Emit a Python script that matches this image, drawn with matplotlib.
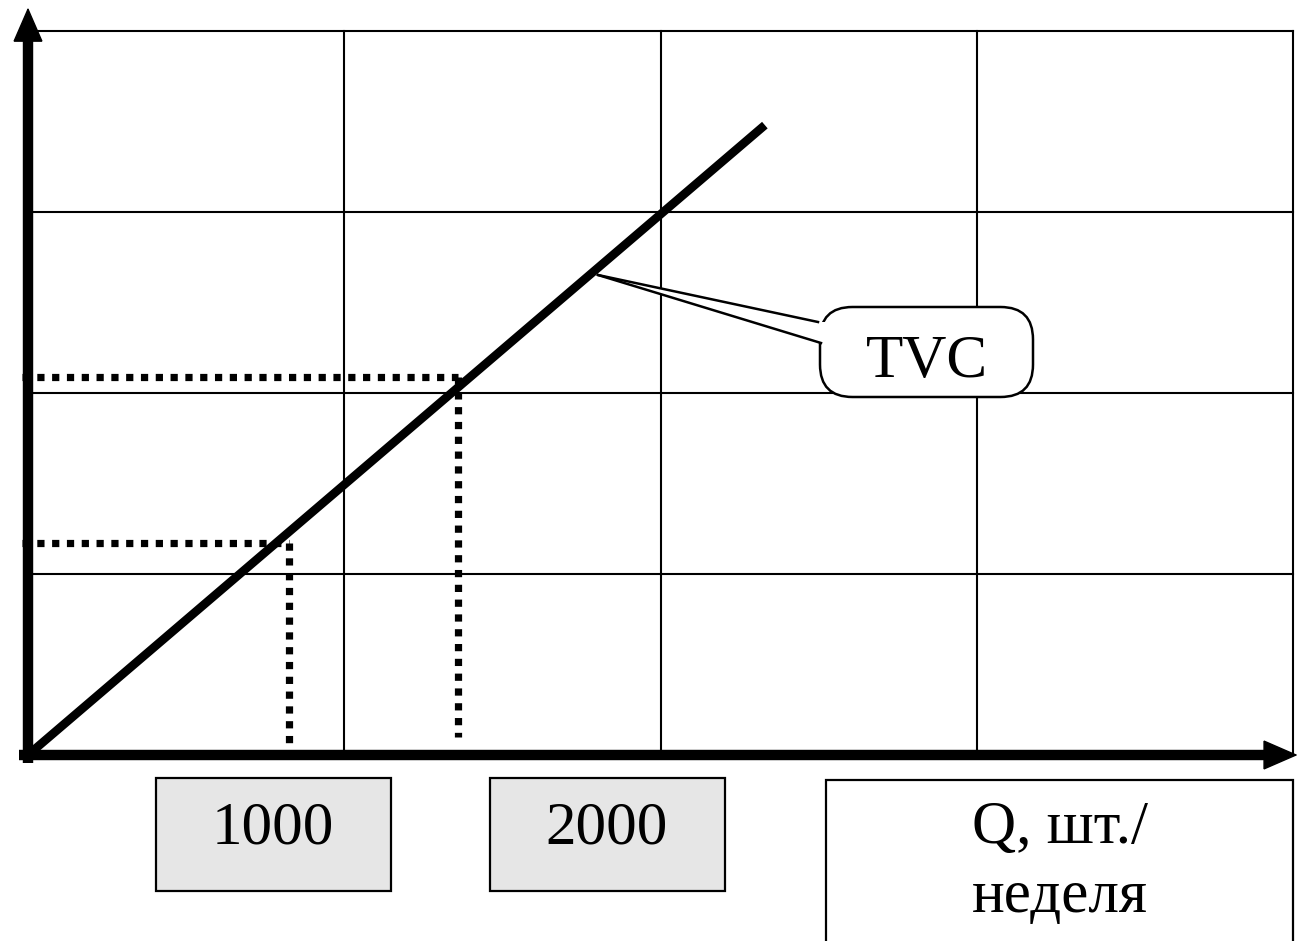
import matplotlib
matplotlib.use("Agg")
import matplotlib.pyplot as plt
from matplotlib.patches import Rectangle, FancyBboxPatch, Polygon

# chart values (grid units: 4 x 4 cells)
grid_x = [0, 1, 2, 3, 4]
grid_y = [0, 1, 2, 3, 4]
tvc_q = [0, 2.33]
tvc_cost = [0, 3.48]
marked_q = [0.825, 1.36]
marked_cost = [1.17, 2.09]
marked_bottom = [0.04, 0.10]
tick_labels = ["1000", "2000"]
axis_label = ["Q, шт./", "неделя"]
curve_label = "TVC"

W, H = 1299, 941
plt.rcParams['font.family'] = ['Liberation Serif', 'DejaVu Serif']

fig = plt.figure(figsize=(W / 100, H / 100), dpi=100)
ax = fig.add_axes([28 / W, 1 - 755 / H, (1293 - 28) / W, (755 - 31) / H])
ax.set_xlim(0, 4)
ax.set_ylim(0, 4)
ax.axis("off")

# grid
for gx in grid_x[1:]:
    ax.plot([gx, gx], [0, 4], color="black", lw=1.5, clip_on=False)
for gy in grid_y[1:]:
    ax.plot([0, 4], [gy, gy], color="black", lw=1.5, clip_on=False)

# dotted guides
for q, c, b in zip(marked_q, marked_cost, marked_bottom):
    ax.plot([-0.02, q], [c, c], color="black", lw=5.2, dashes=(1.0, 1.05),
            dash_capstyle="butt", clip_on=False)
    ax.plot([q, q], [c, b], color="black", lw=5.2, dashes=(1.0, 1.05),
            dash_capstyle="butt", clip_on=False)

# TVC line
ax.plot(tvc_q, tvc_cost, color="black", lw=6.2, solid_capstyle="butt", clip_on=False)

# axes with arrows
ax.plot([0, 0], [-0.045, 4.0], color="black", lw=7.5, solid_capstyle="butt", clip_on=False)
ax.plot([-0.03, 3.97], [0, 0], color="black", lw=7.5, solid_capstyle="butt", clip_on=False)
head = dict(arrowstyle="-|>,head_length=1.15,head_width=0.5", lw=1,
            color="black", mutation_scale=20, shrinkA=0, shrinkB=0,
            joinstyle="miter")
ax.annotate("", xy=(0, 4.13), xytext=(0, 3.7), arrowprops=head, annotation_clip=False)
ax.annotate("", xy=(4.015, 0), xytext=(3.8, 0), arrowprops=head, annotation_clip=False)


def box(x0, y0, x1, y1, fc):
    fig.add_artist(Rectangle((x0 / W, 1 - y1 / H), (x1 - x0) / W, (y1 - y0) / H,
                             transform=fig.transFigure, fc=fc, ec="black", lw=1.6))


box(156, 778, 391, 891, "#e6e6e6")
box(490, 778, 725, 891, "#e6e6e6")
box(826, 780, 1293, 960, "white")

fig.text(273 / W, 1 - 843 / H, tick_labels[0], ha="center", va="baseline", fontsize=44)
fig.text(607 / W, 1 - 843 / H, tick_labels[1], ha="center", va="baseline", fontsize=44)
fig.text(1060 / W, 1 - 843 / H, axis_label[0], ha="center", va="baseline", fontsize=44)
fig.text(1060 / W, 1 - 912 / H, axis_label[1], ha="center", va="baseline", fontsize=44)

# TVC callout
fig.add_artist(FancyBboxPatch((820 / W, 1 - 397 / H), 213 / W, 90 / H,
                              boxstyle="round,pad=0,rounding_size=0.025",
                              transform=fig.transFigure, fc="white", ec="black", lw=1.8,
                              mutation_aspect=W / H))
tip = (598 / W, 1 - 275 / H)
p1 = (818 / W, 1 - 322 / H)
p2 = (821 / W, 1 - 343 / H)
fig.add_artist(Polygon([tip, p1, (826 / W, p1[1]), (826 / W, p2[1]), p2],
                       closed=True, transform=fig.transFigure, fc="white", ec="none"))
fig.add_artist(plt.Line2D([tip[0], p1[0]], [tip[1], p1[1]], transform=fig.transFigure,
                          color="black", lw=1.8))
fig.add_artist(plt.Line2D([tip[0], p2[0]], [tip[1], p2[1]], transform=fig.transFigure,
                          color="black", lw=1.8))
fig.text(927 / W, 1 - 377 / H, curve_label, ha="center", va="baseline", fontsize=44)

fig.savefig("out.png", dpi=100, facecolor="white")
